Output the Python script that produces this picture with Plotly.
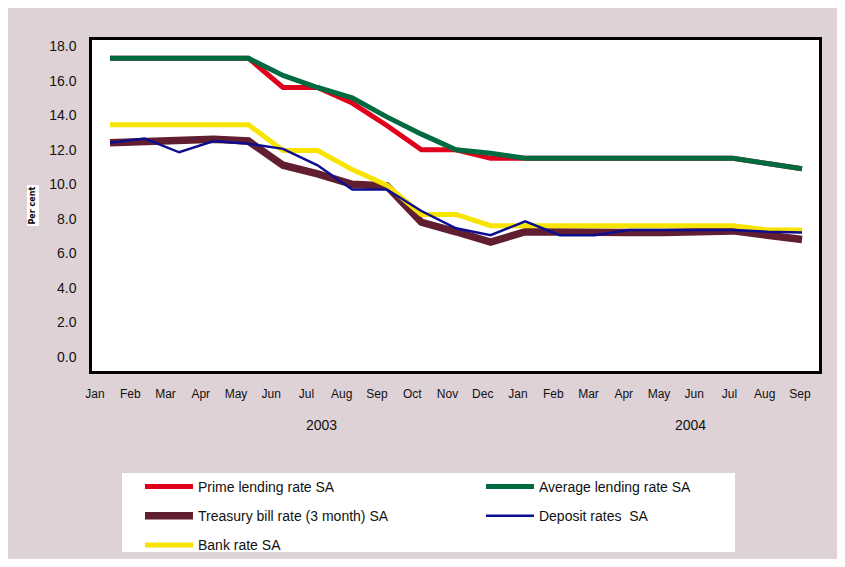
import plotly.graph_objects as go

months = ["Jan", "Feb", "Mar", "Apr", "May", "Jun", "Jul", "Aug", "Sep", "Oct", "Nov", "Dec",
          "Jan", "Feb", "Mar", "Apr", "May", "Jun", "Jul", "Aug", "Sep"]
years = ["2003", "2004"]

prime = [17.3, 17.3, 17.3, 17.3, 17.3, 15.6, 15.6, 14.7, 13.4, 12.0, 12.0, 11.5,
         11.5, 11.5, 11.5, 11.5, 11.5, 11.5, 11.5, 11.2, 10.9]
average = [17.3, 17.3, 17.3, 17.3, 17.3, 16.3, 15.6, 15.0, 13.9, 12.9, 12.0, 11.8,
           11.5, 11.5, 11.5, 11.5, 11.5, 11.5, 11.5, 11.2, 10.9]
treasury = [12.4, 12.5, 12.6, 12.6, 12.5, 11.1, 10.6, 10.0, 9.9, 7.8, 7.25, 6.65,
            7.25, 7.2, 7.2, 7.2, 7.2, 7.3, 7.3, 7.05, 6.8]
deposit = [12.4, 12.65, 11.85, 12.5, 12.35, 12.05, 11.1, 9.7, 9.7, 8.45, 7.45, 7.05,
           7.85, 7.05, 7.05, 7.35, 7.35, 7.35, 7.35, 7.25, 7.2]
bank = [13.45, 13.45, 13.45, 13.45, 13.45, 11.95, 11.95, 10.85, 9.95, 8.25, 8.25, 7.6,
        7.6, 7.6, 7.6, 7.6, 7.6, 7.6, 7.6, 7.35, 7.35]

names = ["Prime lending rate SA", "Average lending rate SA", "Treasury bill rate (3 month) SA",
         "Bank rate SA", "Deposit rates  SA"]
colors = ["#E0001B", "#006A40", "#611E30", "#F7E400", "#0D0D90"]
widths = [5, 5, 7.5, 5, 2.5]
legends = ["legend", "legend2", "legend", "legend", "legend2"]
series = [prime, average, treasury, bank, deposit]

idx = list(range(len(months)))

fig = go.Figure()
for nm, col, w, lg, ys in zip(names, colors, widths, legends, series):
    fig.add_trace(go.Scatter(
        x=idx, y=ys, mode="lines", name=nm,
        line=dict(color=col, width=w),
        legend=lg, legendgroup=nm,
    ))

# invisible helper trace carrying the month-label axis
fig.add_trace(go.Scatter(x=[idx[0], idx[-1]], y=[None, None], xaxis="x2",
                         showlegend=False, hoverinfo="skip"))

PINK = "#DFD2D7"
FONT = "Liberation Sans, Arial, sans-serif"

fig.update_layout(
    width=829, height=551,
    margin=dict(l=84, r=18, t=32, b=188, autoexpand=False),
    paper_bgcolor=PINK,
    plot_bgcolor="white",
    xaxis=dict(range=[-0.52, 20.49], showticklabels=False, ticks="", showgrid=False,
               zeroline=False, showline=True, linecolor="black", linewidth=2.5, mirror=True),
    xaxis2=dict(range=[-0.085, 20.54], overlaying="x", side="bottom", anchor="y",
                tickmode="array", tickvals=idx, ticktext=months, ticks="",
                ticklabelstandoff=14, showgrid=False, zeroline=False, showline=False,
                tickfont=dict(family=FONT, size=12, color="#111")),
    yaxis=dict(range=[-0.81, 18.35], tickmode="array",
               tickvals=[0, 2, 4, 6, 8, 10, 12, 14, 16, 18],
               tickformat=".1f", ticks="", ticklabelstandoff=10, showgrid=False,
               zeroline=False, showline=True, linecolor="black", linewidth=2.5, mirror=True,
               tickfont=dict(family=FONT, size=14, color="#111")),
    legend=dict(x=0.066, y=-0.302, xanchor="left", yanchor="top", orientation="v",
                bgcolor="rgba(0,0,0,0)", tracegroupgap=8, itemwidth=48,
                font=dict(family=FONT, size=14, color="#111")),
    legend2=dict(x=0.535, y=-0.302, xanchor="left", yanchor="top", orientation="v",
                 bgcolor="rgba(0,0,0,0)", tracegroupgap=8, itemwidth=48,
                 font=dict(family=FONT, size=14, color="#111")),
    shapes=[
        dict(type="rect", xref="paper", yref="paper", x0=0.0413, x1=0.8845, y0=-0.547, y1=-0.308,
             fillcolor="white", line=dict(width=0), layer="below"),
    ],
    annotations=[
        dict(text=years[0], xref="paper", yref="paper", x=0.316, y=-0.163, showarrow=False,
             xanchor="center", yanchor="middle", font=dict(family=FONT, size=14, color="#111")),
        dict(text=years[1], xref="paper", yref="paper", x=0.8226, y=-0.163, showarrow=False,
             xanchor="center", yanchor="middle", font=dict(family=FONT, size=14, color="#111")),
        dict(text="<b>Per cent</b>", xref="paper", yref="paper", x=-0.0908, y=0.5015,
             showarrow=False, textangle=-90, bgcolor="white",
             font=dict(family="DejaVu Sans, sans-serif", size=8, color="black")),
    ],
)

fig.write_html("out.html")
